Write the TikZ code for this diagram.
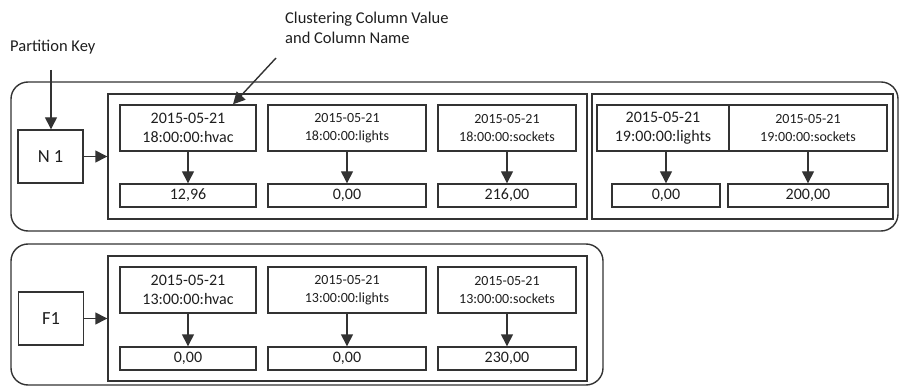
\documentclass[tikz,border=0pt]{standalone}
\usepackage{fontspec}
\setmainfont{Carlito}
\usetikzlibrary{arrows.meta,calc}

\definecolor{edge}{HTML}{333333}
\definecolor{ink}{HTML}{1E1E1E}

\tikzset{
  box/.style={draw=edge, line width=1.4pt, inner sep=0pt, align=center, text=ink},
  bigtext/.style={font=\fontsize{16}{19.5}\selectfont},
  smalltext/.style={font=\fontsize{14}{17.5}\selectfont},
  keycell/.style={box, font=\fontsize{18.5}{22}\selectfont, minimum width=65pt, minimum height=53pt},
  colcell/.style={box, minimum height=46pt},
  valcell/.style={box, bigtext, minimum height=23pt},
  groupbox/.style={draw=edge, line width=1.4pt, minimum width=#1, minimum height=125pt, inner sep=0pt},
  partition/.style={draw=edge, line width=1.4pt, rounded corners=17pt},
  link/.style={draw=edge, line width=1.4pt, -{Triangle[length=12pt,width=12pt]}},
  caption/.style={text=ink, font=\fontsize{16.5}{20}\selectfont, align=left, inner sep=0pt, anchor=west}
}

\begin{document}
\begin{tikzpicture}[x=1pt, y=-1pt]
  \useasboundingbox (0,0) rectangle (899,387);

  % partitions
  \draw[partition] (11,82) rectangle (898,231);
  \draw[partition] (11,244) rectangle (603,385);

  % captions
  \node[caption] (pk) at (10,47) {Partition Key};
  \node[caption] (cc) at (285,28) {Clustering Column Value\\and Column Name};
  \coordinate (pkfoot) at (51,70);
  \coordinate (ccfoot) at (276,58);

  % ---- partition N 1 ----
  \node[keycell] (n1) at (50.5,156.5) {N 1};
  \node[groupbox=479pt] (g1) at (347.5,156.5) {};
  \node[colcell, bigtext, minimum width=136pt] (a1) at (188,128) {2015-05-21\\18:00:00:hvac};
  \node[colcell, smalltext, minimum width=158pt] (a2) at (347,128) {2015-05-21\\18:00:00:lights};
  \node[colcell, smalltext, minimum width=138pt] (a3) at (507,128) {2015-05-21\\18:00:00:sockets};
  \node[valcell, minimum width=136pt] (av1) at (188,195.5) {12,96};
  \node[valcell, minimum width=158pt] (av2) at (347,195.5) {0,00};
  \node[valcell, minimum width=138pt] (av3) at (507,195.5) {216,00};

  \node[groupbox=301pt] (g2) at (742.5,156.5) {};
  \node[colcell, bigtext, minimum width=132pt] (b1) at (663,128) {2015-05-21\\19:00:00:lights};
  \node[colcell, smalltext, minimum width=158pt] (b2) at (808,128) {2015-05-21\\19:00:00:sockets};
  \node[valcell, minimum width=108pt] (bv1) at (666,195.5) {0,00};
  \node[valcell, minimum width=160pt] (bv2) at (808,195.5) {200,00};

  % ---- partition F1 ----
  \node[keycell] (f1) at (51,318.5) {F1};
  \node[groupbox=479pt] (g3) at (347.5,318.5) {};
  \node[colcell, bigtext, minimum width=136pt] (c1) at (188,290) {2015-05-21\\13:00:00:hvac};
  \node[colcell, smalltext, minimum width=158pt] (c2) at (347,290) {2015-05-21\\13:00:00:lights};
  \node[colcell, smalltext, minimum width=138pt] (c3) at (507,290) {2015-05-21\\13:00:00:sockets};
  \node[valcell, minimum width=136pt] (cv1) at (188,358.5) {0,00};
  \node[valcell, minimum width=158pt] (cv2) at (347,358.5) {0,00};
  \node[valcell, minimum width=138pt] (cv3) at (507,358.5) {230,00};

  % connectors
  \draw[link] (pkfoot) -- (pkfoot |- n1.north);
  \draw[link] (ccfoot) -- ($(a1.north)+(45pt,0)$);
  \draw[link] (n1) -- (g1.west);
  \draw[link] (f1) -- (g3.west);
  \foreach \c/\v in {a1/av1, a2/av2, a3/av3, b2/bv2, c1/cv1, c2/cv2, c3/cv3}
    \draw[link] (\c.south) -- (\v.north);
  \draw[link] (bv1.north |- b1.south) -- (bv1.north);
\end{tikzpicture}
\end{document}
